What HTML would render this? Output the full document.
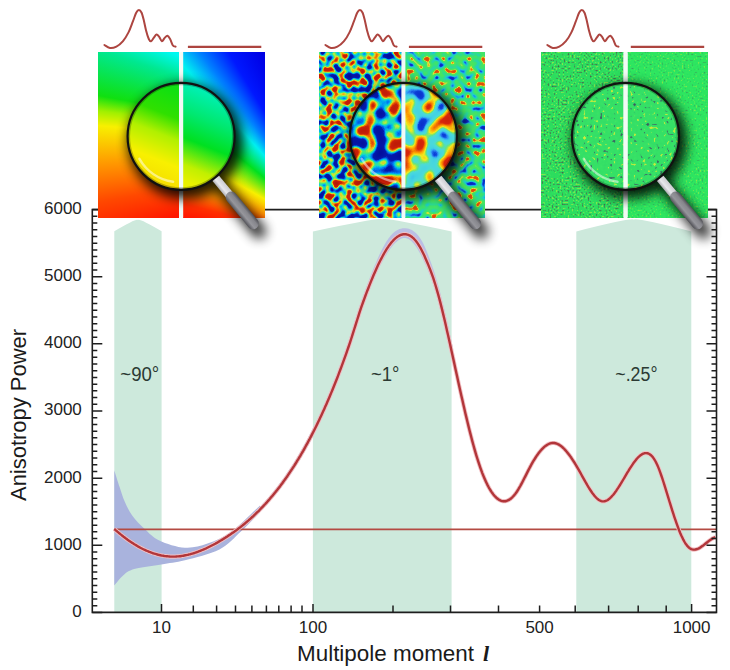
<!DOCTYPE html><html><head><meta charset="utf-8"><style>html,body{margin:0;padding:0;background:#fff;width:730px;height:670px;overflow:hidden}svg{display:block}</style></head><body><svg width="730" height="670" viewBox="0 0 730 670" font-family='"Liberation Sans", sans-serif'><defs><clipPath id="cc0"><circle cx="181.1" cy="136.3" r="53.5"/></clipPath>
<linearGradient id="p1r" gradientUnits="userSpaceOnUse" x1="190.0" y1="215.0" x2="310.0" y2="109.4"><stop offset="0" stop-color="#ff1000"/><stop offset="0.2" stop-color="#ff2800"/><stop offset="0.37" stop-color="#ff9000"/><stop offset="0.44" stop-color="#f0f000"/><stop offset="0.5" stop-color="#00e020"/><stop offset="0.61" stop-color="#00f0f0"/><stop offset="0.78" stop-color="#0080ff"/><stop offset="1" stop-color="#0000e0"/></linearGradient>
<linearGradient id="p1ml" gradientUnits="userSpaceOnUse" x1="156.9" y1="196.9" x2="201.3" y2="85.3"><stop offset="0" stop-color="#f5d000"/><stop offset="0.042" stop-color="#f5d800"/><stop offset="0.29" stop-color="#f8f000"/><stop offset="0.5" stop-color="#b0f000"/><stop offset="0.667" stop-color="#30e000"/><stop offset="0.875" stop-color="#10e010"/><stop offset="1" stop-color="#10e020"/></linearGradient>
<linearGradient id="p1mr" gradientUnits="userSpaceOnUse" x1="156.9" y1="196.9" x2="201.3" y2="85.3"><stop offset="0" stop-color="#f0f000"/><stop offset="0.208" stop-color="#e8f000"/><stop offset="0.333" stop-color="#c0f000"/><stop offset="0.542" stop-color="#00e020"/><stop offset="0.75" stop-color="#00e870"/><stop offset="0.958" stop-color="#00f0b0"/><stop offset="1" stop-color="#00f0c8"/></linearGradient>
<linearGradient id="ferr0" gradientUnits="userSpaceOnUse" x1="215.4" y1="185.8" x2="223.1" y2="179.4"><stop offset="0" stop-color="#a0a0a6"/><stop offset="0.4" stop-color="#e8e8ec"/><stop offset="1" stop-color="#c8c8cc"/></linearGradient>
<linearGradient id="grip0" gradientUnits="userSpaceOnUse" x1="233.7" y1="209.6" x2="243.0" y2="201.9"><stop offset="0" stop-color="#505056"/><stop offset="0.35" stop-color="#96969c"/><stop offset="0.7" stop-color="#86868c"/><stop offset="1" stop-color="#4a4a50"/></linearGradient>
<clipPath id="cc1"><circle cx="403.4" cy="136.3" r="53.5"/></clipPath>
<filter id="n2l" x="319.2" y="52.2" width="82.19999999999999" height="165.39999999999998" filterUnits="userSpaceOnUse" color-interpolation-filters="sRGB">
<feTurbulence type="fractalNoise" baseFrequency="0.15" numOctaves="1" seed="7"/>
<feColorMatrix type="matrix" values="1 0 0 0 0 1 0 0 0 0 1 0 0 0 0 0 0 0 0 1"/>
<feComponentTransfer><feFuncR type="table" tableValues="0.000 0.001 0.003 0.004 0.005 0.007 0.008 0.009 0.011 0.012 0.014 0.015 0.016 0.018 0.019 0.018 0.008 0.000 0.000 0.090 0.240 0.486 0.796 0.931 0.950 0.875 0.800 0.786 0.771 0.757 0.743 0.729 0.714 0.700 0.686 0.671 0.657 0.643 0.629 0.614 0.600"/><feFuncG type="table" tableValues="0.000 0.007 0.014 0.020 0.027 0.034 0.041 0.047 0.054 0.061 0.068 0.074 0.081 0.088 0.095 0.135 0.310 0.496 0.728 0.850 0.900 0.920 0.920 0.744 0.450 0.290 0.130 0.124 0.119 0.113 0.107 0.101 0.096 0.090 0.084 0.079 0.073 0.067 0.061 0.056 0.050"/><feFuncB type="table" tableValues="0.500 0.512 0.524 0.536 0.549 0.561 0.573 0.585 0.597 0.609 0.622 0.634 0.646 0.658 0.670 0.707 0.842 0.946 0.927 0.779 0.544 0.360 0.210 0.094 0.000 0.020 0.040 0.037 0.034 0.031 0.029 0.026 0.023 0.020 0.017 0.014 0.011 0.009 0.006 0.003 0.000"/></feComponentTransfer>
</filter>
<filter id="n2r" x="405.4" y="52.2" width="79.40000000000003" height="165.39999999999998" filterUnits="userSpaceOnUse" color-interpolation-filters="sRGB">
<feTurbulence type="fractalNoise" baseFrequency="0.16" numOctaves="1" seed="11"/>
<feColorMatrix type="matrix" values="1 0 0 0 0 1 0 0 0 0 1 0 0 0 0 0 0 0 0 1"/>
<feComponentTransfer><feFuncR type="table" tableValues="0.000 0.004 0.009 0.013 0.018 0.022 0.027 0.031 0.036 0.040 0.045 0.049 0.070 0.095 0.110 0.124 0.144 0.164 0.184 0.204 0.223 0.242 0.262 0.281 0.300 0.600 0.900 0.900 0.894 0.877 0.861 0.845 0.829 0.813 0.797 0.781 0.765 0.748 0.732 0.716 0.700"/><feFuncG type="table" tableValues="0.000 0.018 0.036 0.054 0.071 0.089 0.107 0.125 0.143 0.161 0.179 0.196 0.360 0.560 0.700 0.804 0.824 0.844 0.864 0.881 0.885 0.888 0.892 0.896 0.900 0.900 0.900 0.556 0.342 0.322 0.302 0.281 0.261 0.241 0.221 0.201 0.181 0.160 0.140 0.120 0.100"/><feFuncB type="table" tableValues="0.500 0.527 0.554 0.580 0.607 0.634 0.661 0.688 0.714 0.741 0.768 0.795 0.860 0.935 0.885 0.804 0.724 0.644 0.564 0.494 0.465 0.437 0.408 0.379 0.350 0.275 0.200 0.106 0.048 0.044 0.040 0.036 0.032 0.028 0.024 0.020 0.016 0.012 0.008 0.004 0.000"/></feComponentTransfer>
</filter>
<filter id="n2ml" x="349.9" y="82.80000000000001" width="53.5" height="107.0" filterUnits="userSpaceOnUse" color-interpolation-filters="sRGB">
<feTurbulence type="fractalNoise" baseFrequency="0.08" numOctaves="1" seed="31"/>
<feColorMatrix type="matrix" values="1 0 0 0 0 1 0 0 0 0 1 0 0 0 0 0 0 0 0 1"/>
<feComponentTransfer><feFuncR type="table" tableValues="0.000 0.001 0.003 0.004 0.005 0.006 0.007 0.009 0.010 0.011 0.013 0.014 0.015 0.016 0.017 0.019 0.020 0.010 0.000 0.000 0.086 0.300 0.743 0.931 0.950 0.875 0.800 0.786 0.771 0.757 0.743 0.729 0.714 0.700 0.686 0.671 0.657 0.643 0.629 0.614 0.600"/><feFuncG type="table" tableValues="0.000 0.006 0.013 0.019 0.025 0.031 0.037 0.044 0.050 0.056 0.062 0.069 0.075 0.081 0.087 0.094 0.100 0.275 0.450 0.681 0.849 0.920 0.920 0.744 0.450 0.290 0.130 0.124 0.119 0.113 0.107 0.101 0.096 0.090 0.084 0.079 0.073 0.067 0.061 0.056 0.050"/><feFuncB type="table" tableValues="0.500 0.511 0.522 0.534 0.545 0.556 0.568 0.579 0.590 0.601 0.613 0.624 0.635 0.646 0.657 0.669 0.680 0.815 0.950 0.931 0.786 0.450 0.236 0.094 0.000 0.020 0.040 0.037 0.034 0.031 0.029 0.026 0.023 0.020 0.017 0.014 0.011 0.009 0.006 0.003 0.000"/></feComponentTransfer>
</filter>
<filter id="n2mr" x="403.4" y="82.80000000000001" width="53.5" height="107.0" filterUnits="userSpaceOnUse" color-interpolation-filters="sRGB">
<feTurbulence type="fractalNoise" baseFrequency="0.07" numOctaves="1" seed="23"/>
<feColorMatrix type="matrix" values="1 0 0 0 0 1 0 0 0 0 1 0 0 0 0 0 0 0 0 1"/>
<feComponentTransfer><feFuncR type="table" tableValues="0.000 0.004 0.008 0.013 0.017 0.021 0.025 0.029 0.033 0.038 0.042 0.046 0.050 0.144 0.212 0.244 0.261 0.275 0.289 0.312 0.375 0.606 0.950 0.968 0.986 0.991 0.944 0.897 0.850 0.837 0.825 0.812 0.800 0.787 0.775 0.762 0.750 0.737 0.725 0.712 0.700"/><feFuncG type="table" tableValues="0.000 0.021 0.042 0.062 0.083 0.104 0.125 0.146 0.167 0.188 0.208 0.229 0.250 0.469 0.655 0.792 0.829 0.840 0.851 0.865 0.890 0.907 0.920 0.806 0.691 0.572 0.431 0.291 0.150 0.146 0.142 0.137 0.133 0.129 0.125 0.121 0.117 0.112 0.108 0.104 0.100"/><feFuncB type="table" tableValues="0.600 0.621 0.642 0.662 0.683 0.704 0.725 0.746 0.767 0.787 0.808 0.829 0.850 0.931 0.960 0.910 0.889 0.875 0.861 0.800 0.550 0.326 0.120 0.077 0.034 0.003 0.019 0.034 0.050 0.046 0.042 0.037 0.033 0.029 0.025 0.021 0.017 0.012 0.008 0.004 0.000"/></feComponentTransfer>
</filter>
<linearGradient id="ferr1" gradientUnits="userSpaceOnUse" x1="437.7" y1="185.8" x2="445.4" y2="179.4"><stop offset="0" stop-color="#a0a0a6"/><stop offset="0.4" stop-color="#e8e8ec"/><stop offset="1" stop-color="#c8c8cc"/></linearGradient>
<linearGradient id="grip1" gradientUnits="userSpaceOnUse" x1="456.0" y1="209.6" x2="465.3" y2="201.9"><stop offset="0" stop-color="#505056"/><stop offset="0.35" stop-color="#96969c"/><stop offset="0.7" stop-color="#86868c"/><stop offset="1" stop-color="#4a4a50"/></linearGradient>
<clipPath id="cc2"><circle cx="625.55" cy="136.3" r="53.5"/></clipPath>
<filter id="n3l" x="541.1" y="52.2" width="82.19999999999993" height="165.39999999999998" filterUnits="userSpaceOnUse" color-interpolation-filters="sRGB">
<feTurbulence type="fractalNoise" baseFrequency="0.5" numOctaves="1" seed="5"/>
<feColorMatrix type="matrix" values="1 0 0 0 0 1 0 0 0 0 1 0 0 0 0 0 0 0 0 1"/>
<feComponentTransfer><feFuncR type="table" tableValues="0.200 0.207 0.214 0.221 0.229 0.236 0.243 0.250 0.257 0.264 0.271 0.279 0.262 0.239 0.216 0.193 0.170 0.171 0.172 0.173 0.175 0.176 0.177 0.178 0.179 0.196 0.276 0.356 0.436 0.504 0.521 0.539 0.557 0.575 0.593 0.611 0.629 0.646 0.664 0.682 0.700"/><feFuncG type="table" tableValues="0.300 0.322 0.345 0.367 0.389 0.412 0.434 0.456 0.479 0.501 0.523 0.546 0.602 0.666 0.731 0.795 0.860 0.862 0.865 0.867 0.869 0.871 0.874 0.876 0.878 0.881 0.886 0.891 0.896 0.900 0.902 0.904 0.906 0.907 0.909 0.911 0.913 0.915 0.916 0.918 0.920"/><feFuncB type="table" tableValues="0.250 0.256 0.263 0.269 0.275 0.281 0.287 0.294 0.300 0.306 0.312 0.319 0.328 0.339 0.349 0.360 0.370 0.370 0.370 0.370 0.370 0.370 0.370 0.370 0.370 0.366 0.349 0.331 0.314 0.299 0.295 0.290 0.286 0.281 0.277 0.272 0.268 0.263 0.259 0.254 0.250"/></feComponentTransfer>
</filter>
<filter id="n3r" x="627.8" y="52.2" width="79.5" height="165.39999999999998" filterUnits="userSpaceOnUse" color-interpolation-filters="sRGB">
<feTurbulence type="fractalNoise" baseFrequency="0.5" numOctaves="1" seed="9"/>
<feColorMatrix type="matrix" values="1 0 0 0 0 1 0 0 0 0 1 0 0 0 0 0 0 0 0 1"/>
<feComponentTransfer><feFuncR type="table" tableValues="0.250 0.247 0.244 0.241 0.238 0.235 0.232 0.229 0.226 0.223 0.220 0.209 0.197 0.186 0.175 0.171 0.173 0.175 0.176 0.178 0.180 0.182 0.184 0.185 0.187 0.189 0.216 0.281 0.346 0.411 0.460 0.484 0.508 0.532 0.556 0.580 0.604 0.628 0.652 0.676 0.700"/><feFuncG type="table" tableValues="0.450 0.477 0.504 0.531 0.558 0.585 0.612 0.639 0.666 0.693 0.720 0.759 0.797 0.836 0.875 0.891 0.893 0.895 0.896 0.898 0.900 0.902 0.904 0.905 0.907 0.909 0.910 0.910 0.910 0.910 0.910 0.911 0.912 0.913 0.914 0.915 0.916 0.917 0.918 0.919 0.920"/><feFuncB type="table" tableValues="0.300 0.306 0.312 0.318 0.324 0.330 0.336 0.342 0.348 0.354 0.360 0.365 0.369 0.374 0.378 0.380 0.380 0.380 0.380 0.380 0.380 0.380 0.380 0.380 0.380 0.380 0.372 0.352 0.332 0.312 0.298 0.293 0.288 0.284 0.279 0.274 0.269 0.264 0.260 0.255 0.250"/></feComponentTransfer>
</filter>
<filter id="n3ml" x="572.05" y="82.80000000000001" width="53.5" height="107.0" filterUnits="userSpaceOnUse" color-interpolation-filters="sRGB">
<feTurbulence type="fractalNoise" baseFrequency="0.3" numOctaves="1" seed="13"/>
<feColorMatrix type="matrix" values="1 0 0 0 0 1 0 0 0 0 1 0 0 0 0 0 0 0 0 1"/>
<feComponentTransfer><feFuncR type="table" tableValues="0.150 0.159 0.168 0.177 0.186 0.195 0.204 0.212 0.221 0.230 0.239 0.248 0.233 0.213 0.201 0.202 0.204 0.205 0.207 0.209 0.210 0.212 0.214 0.215 0.217 0.218 0.220 0.420 0.620 0.710 0.728 0.745 0.762 0.779 0.797 0.814 0.831 0.848 0.866 0.883 0.900"/><feFuncG type="table" tableValues="0.250 0.272 0.295 0.317 0.339 0.362 0.384 0.406 0.429 0.451 0.473 0.496 0.623 0.777 0.871 0.872 0.874 0.875 0.877 0.879 0.880 0.882 0.884 0.885 0.887 0.888 0.890 0.903 0.915 0.922 0.924 0.927 0.929 0.932 0.934 0.937 0.940 0.942 0.945 0.947 0.950"/><feFuncB type="table" tableValues="0.300 0.309 0.318 0.327 0.336 0.345 0.354 0.362 0.371 0.380 0.389 0.398 0.400 0.400 0.400 0.400 0.400 0.400 0.400 0.400 0.400 0.400 0.400 0.400 0.400 0.400 0.400 0.337 0.275 0.247 0.243 0.239 0.234 0.230 0.226 0.222 0.217 0.213 0.209 0.204 0.200"/></feComponentTransfer>
</filter>
<filter id="n3mr" x="625.55" y="82.80000000000001" width="53.5" height="107.0" filterUnits="userSpaceOnUse" color-interpolation-filters="sRGB">
<feTurbulence type="fractalNoise" baseFrequency="0.3" numOctaves="1" seed="21"/>
<feColorMatrix type="matrix" values="1 0 0 0 0 1 0 0 0 0 1 0 0 0 0 0 0 0 0 1"/>
<feComponentTransfer><feFuncR type="table" tableValues="0.150 0.159 0.168 0.177 0.186 0.195 0.204 0.212 0.221 0.230 0.239 0.248 0.233 0.213 0.201 0.202 0.204 0.205 0.207 0.209 0.210 0.212 0.214 0.215 0.217 0.218 0.220 0.420 0.620 0.710 0.728 0.745 0.762 0.779 0.797 0.814 0.831 0.848 0.866 0.883 0.900"/><feFuncG type="table" tableValues="0.250 0.272 0.295 0.317 0.339 0.362 0.384 0.406 0.429 0.451 0.473 0.496 0.623 0.777 0.871 0.872 0.874 0.875 0.877 0.879 0.880 0.882 0.884 0.885 0.887 0.888 0.890 0.903 0.915 0.922 0.924 0.927 0.929 0.932 0.934 0.937 0.940 0.942 0.945 0.947 0.950"/><feFuncB type="table" tableValues="0.300 0.309 0.318 0.327 0.336 0.345 0.354 0.362 0.371 0.380 0.389 0.398 0.400 0.400 0.400 0.400 0.400 0.400 0.400 0.400 0.400 0.400 0.400 0.400 0.400 0.400 0.400 0.337 0.275 0.247 0.243 0.239 0.234 0.230 0.226 0.222 0.217 0.213 0.209 0.204 0.200"/></feComponentTransfer>
</filter>
<linearGradient id="ferr2" gradientUnits="userSpaceOnUse" x1="659.9" y1="185.8" x2="667.6" y2="179.4"><stop offset="0" stop-color="#a0a0a6"/><stop offset="0.4" stop-color="#e8e8ec"/><stop offset="1" stop-color="#c8c8cc"/></linearGradient>
<linearGradient id="grip2" gradientUnits="userSpaceOnUse" x1="678.2" y1="209.6" x2="687.4" y2="201.9"><stop offset="0" stop-color="#505056"/><stop offset="0.35" stop-color="#96969c"/><stop offset="0.7" stop-color="#86868c"/><stop offset="1" stop-color="#4a4a50"/></linearGradient>
<filter id="blur6" x="-50%" y="-50%" width="200%" height="200%"><feGaussianBlur stdDeviation="6"/></filter></defs>
<path d="M114.3,612.4 L114.3,231.3 Q137.95,217.3 137.95,220.3 Q137.95,217.3 161.6,231.3 L161.6,612.4 Z" fill="#cde9dc"/>
<path d="M312.9,612.4 L312.9,231.5 Q382.25,216.5 382.25,219.5 Q382.25,216.5 451.6,231.5 L451.6,612.4 Z" fill="#cde9dc"/>
<path d="M576.3,612.4 L576.3,231.4 Q633.8,216.8 633.8,219.8 Q633.8,216.8 691.3,231.4 L691.3,612.4 Z" fill="#cde9dc"/>
<path d="M114.3,470.5 C115.2,473.2 117.8,481.8 119.6,487.0 C121.3,492.2 122.7,497.1 124.8,501.8 C126.9,506.5 128.9,510.9 132.2,515.4 C135.5,519.9 140.2,524.8 144.7,529.0 C149.2,533.2 152.6,537.3 159.3,540.4 C166.0,543.5 177.0,547.2 185.0,547.7 C193.0,548.2 199.8,546.3 207.5,543.6 C215.2,540.9 222.6,538.0 231.3,531.6 C240.1,525.2 255.2,509.8 260.0,505.4 L260,512.5 C256.8,515.7 247.7,525.4 240.9,531.6 C234.1,537.8 228.7,544.8 219.4,549.6 C210.1,554.4 194.7,557.8 185.0,560.3 C175.3,562.8 169.5,563.0 161.4,564.4 C153.3,565.8 142.4,567.0 136.3,568.6 C130.2,570.2 128.5,571.1 124.8,573.9 C121.1,576.7 116.0,583.5 114.3,585.4 Z" fill="#a9b3dd"/>
<path d="M249.0,517.3 L250.0,516.4 L250.9,515.5 L251.9,514.6 L252.9,513.7 L253.9,512.7 L254.9,511.8 L255.9,510.8 L256.9,509.8 L257.9,508.8 L258.9,507.8 L259.9,506.8 L260.9,505.8 L261.8,504.7 L262.8,503.7 L263.8,502.6 L264.8,501.5 L265.8,500.4 L266.8,499.3 L267.8,498.2 L268.8,497.0 L269.8,495.8 L270.8,494.7 L271.8,493.5 L272.7,492.3 L273.7,491.0 L274.7,489.8 L275.7,488.5 L276.7,487.3 L277.7,486.0 L278.7,484.7 L279.7,483.3 L280.7,482.0 L281.7,480.6 L282.7,479.3 L283.7,477.9 L284.7,476.4 L285.7,475.0 L286.6,473.6 L287.6,472.1 L288.6,470.6 L289.6,469.1 L290.6,467.6 L291.6,466.1 L292.6,464.5 L293.6,462.9 L294.6,461.3 L295.6,459.7 L296.6,458.1 L297.6,456.4 L298.6,454.7 L299.6,453.0 L300.6,451.3 L301.6,449.6 L302.6,447.8 L303.6,446.0 L304.5,444.2 L305.5,442.4 L306.5,440.6 L307.5,438.7 L308.5,436.8 L309.5,434.9 L310.5,433.0 L311.5,431.1 L312.5,429.1 L313.5,427.1 L314.5,425.1 L315.5,423.0 L316.5,421.0 L317.5,418.9 L318.5,416.7 L319.5,414.6 L320.5,412.4 L321.5,410.3 L322.5,408.0 L323.5,405.8 L324.5,403.6 L325.5,401.3 L326.5,398.9 L327.5,396.6 L328.5,394.2 L329.5,391.9 L330.4,389.4 L331.4,387.0 L332.4,384.5 L333.4,382.0 L334.4,379.5 L335.4,376.9 L336.4,374.3 L337.4,371.7 L338.4,369.1 L339.4,366.4 L340.4,363.7 L341.4,361.0 L342.4,358.2 L343.4,355.4 L344.4,352.6 L345.4,349.8 L346.4,346.9 L347.4,343.9 L348.4,340.9 L349.4,337.9 L350.4,334.8 L351.4,331.6 L352.4,328.4 L353.4,325.2 L354.4,322.0 L355.4,318.8 L356.4,315.7 L357.3,312.6 L358.3,309.5 L359.3,306.6 L360.3,303.7 L361.3,300.8 L362.3,298.0 L363.3,295.3 L364.3,292.6 L365.2,290.0 L366.2,287.3 L367.2,284.8 L368.1,282.2 L369.1,279.7 L370.0,277.3 L371.0,274.8 L371.9,272.4 L372.9,270.1 L373.8,267.8 L374.7,265.6 L375.7,263.4 L376.6,261.2 L377.5,259.1 L378.4,257.1 L379.3,255.1 L380.2,253.1 L381.1,251.2 L382.0,249.4 L383.0,247.6 L383.9,245.9 L384.8,244.3 L385.7,242.7 L386.7,241.1 L387.7,239.7 L388.6,238.3 L389.7,236.9 L390.7,235.6 L391.8,234.5 L392.9,233.3 L394.1,232.3 L395.3,231.3 L396.6,230.5 L398.0,229.8 L399.5,229.1 L401.0,228.7 L402.5,228.3 L404.1,228.2 L405.7,228.2 L407.3,228.4 L408.9,228.8 L410.4,229.4 L411.9,230.1 L413.3,230.9 L414.6,231.9 L415.9,233.0 L417.1,234.2 L418.2,235.5 L419.3,236.9 L420.3,238.4 L421.3,240.1 L422.3,241.8 L423.3,243.6 L424.2,245.5 L425.1,247.5 L426.0,249.6 L426.9,251.8 L427.8,254.0 L428.7,256.4 L429.6,258.7 L430.5,261.2 L431.4,263.7 L432.3,266.2 L433.2,268.8 L434.1,271.6 L435.0,274.4 L435.9,277.4 L436.8,280.5 L437.8,283.7 L438.7,287.1 L439.7,290.6 L440.6,294.2 L441.6,298.0 L442.5,301.9 L443.5,305.8 L444.5,309.9 L445.4,314.1 L446.4,318.3 L447.4,322.6 L448.4,327.0 L449.3,331.4 L450.3,335.9 L451.3,340.4 L452.3,344.9 L453.3,349.4 L449.5,350.3 L448.5,345.7 L447.5,341.2 L446.5,336.7 L445.5,332.3 L444.5,327.9 L443.5,323.5 L442.5,319.2 L441.5,315.0 L440.4,310.9 L439.4,306.9 L438.4,302.9 L437.4,299.1 L436.4,295.4 L435.3,291.8 L434.3,288.4 L433.3,285.1 L432.3,281.9 L431.2,278.9 L430.2,276.1 L429.2,273.4 L428.1,270.8 L427.1,268.3 L426.0,265.8 L425.0,263.5 L423.9,261.2 L422.9,258.9 L421.8,256.8 L420.8,254.7 L419.7,252.8 L418.7,250.9 L417.7,249.2 L416.6,247.6 L415.6,246.1 L414.6,244.8 L413.7,243.6 L412.7,242.5 L411.8,241.6 L410.9,240.8 L410.0,240.1 L409.2,239.5 L408.4,239.0 L407.6,238.7 L406.9,238.4 L406.3,238.2 L405.6,238.1 L405.0,238.0 L404.4,238.0 L403.8,238.0 L403.2,238.1 L402.5,238.3 L401.8,238.5 L401.0,238.8 L400.2,239.2 L399.4,239.7 L398.5,240.3 L397.6,241.0 L396.7,241.8 L395.7,242.6 L394.7,243.6 L393.7,244.6 L392.7,245.8 L391.7,247.0 L390.7,248.3 L389.7,249.7 L388.6,251.2 L387.6,252.7 L386.6,254.4 L385.5,256.1 L384.5,257.8 L383.5,259.7 L382.4,261.6 L381.4,263.5 L380.3,265.6 L379.3,267.7 L378.3,269.8 L377.2,272.0 L376.2,274.3 L375.2,276.6 L374.2,279.0 L373.1,281.4 L372.1,283.8 L371.1,286.3 L370.1,288.9 L369.1,291.4 L368.1,294.0 L367.1,296.7 L366.1,299.4 L365.0,302.1 L364.0,305.0 L363.0,307.8 L362.0,310.8 L361.0,313.8 L360.0,316.9 L359.0,320.0 L358.0,323.2 L357.0,326.4 L356.0,329.6 L355.0,332.8 L354.0,335.9 L353.0,339.1 L352.0,342.1 L351.0,345.1 L350.0,348.1 L349.0,351.0 L348.0,353.9 L347.0,356.7 L346.0,359.5 L345.0,362.3 L344.0,365.0 L343.0,367.7 L342.0,370.4 L341.0,373.1 L340.0,375.7 L339.0,378.3 L338.0,380.9 L337.0,383.4 L336.0,385.9 L335.0,388.4 L334.0,390.9 L333.0,393.3 L332.0,395.7 L331.0,398.1 L330.0,400.4 L329.0,402.8 L327.9,405.1 L326.9,407.4 L325.9,409.6 L324.9,411.8 L323.9,414.0 L322.9,416.2 L321.9,418.4 L320.9,420.5 L319.9,422.6 L318.9,424.7 L317.9,426.7 L316.9,428.8 L315.9,430.8 L314.9,432.8 L313.9,434.7 L312.9,436.7 L311.9,438.6 L310.9,440.5 L309.9,442.4 L308.9,444.2 L307.9,446.1 L306.9,447.9 L305.9,449.7 L304.9,451.5 L303.9,453.2 L302.9,455.0 L301.9,456.7 L300.8,458.4 L299.8,460.0 L298.8,461.7 L297.8,463.3 L296.8,464.9 L295.8,466.5 L294.8,468.1 L293.8,469.7 L292.8,471.2 L291.8,472.7 L290.8,474.2 L289.8,475.7 L288.8,477.2 L287.8,478.6 L286.8,480.1 L285.8,481.5 L284.8,482.9 L283.8,484.2 L282.7,485.6 L281.7,486.9 L280.7,488.3 L279.7,489.6 L278.7,490.9 L277.7,492.2 L276.7,493.4 L275.7,494.7 L274.7,495.9 L273.7,497.1 L272.7,498.3 L271.7,499.5 L270.7,500.6 L269.7,501.8 L268.6,502.9 L267.6,504.1 L266.6,505.2 L265.6,506.3 L264.6,507.3 L263.6,508.4 L262.6,509.5 L261.6,510.5 L260.6,511.5 L259.6,512.5 L258.6,513.5 L257.6,514.5 L256.5,515.5 L255.5,516.4 L254.5,517.4 L253.5,518.3 L252.5,519.2 L251.5,520.1 Z" fill="#bbbfe4"/>
<line x1="114.3" y1="529.4" x2="716.5" y2="529.4" stroke="#b44a42" stroke-width="1.9"/>
<path d="M114.3,529.0 L115.3,529.9 L116.3,530.7 L117.3,531.6 L118.3,532.4 L119.3,533.3 L120.3,534.1 L121.3,534.9 L122.3,535.7 L123.3,536.5 L124.3,537.2 L125.3,538.0 L126.3,538.7 L127.3,539.5 L128.3,540.2 L129.3,540.9 L130.3,541.6 L131.3,542.2 L132.3,542.9 L133.3,543.5 L134.3,544.2 L135.3,544.8 L136.3,545.4 L137.3,546.0 L138.3,546.6 L139.3,547.1 L140.3,547.7 L141.3,548.2 L142.3,548.7 L143.3,549.2 L144.3,549.7 L145.3,550.1 L146.3,550.6 L147.3,551.0 L148.3,551.4 L149.3,551.9 L150.3,552.2 L151.3,552.6 L152.3,553.0 L153.3,553.3 L154.3,553.6 L155.3,553.9 L156.3,554.2 L157.3,554.5 L158.3,554.8 L159.3,555.0 L160.3,555.2 L161.3,555.5 L162.3,555.6 L163.3,555.8 L164.3,556.0 L165.3,556.1 L166.3,556.2 L167.3,556.3 L168.3,556.4 L169.3,556.5 L170.3,556.6 L171.3,556.6 L172.3,556.6 L173.3,556.6 L174.3,556.6 L175.3,556.6 L176.3,556.5 L177.3,556.4 L178.3,556.4 L179.3,556.3 L180.3,556.2 L181.3,556.0 L182.3,555.9 L183.3,555.7 L184.3,555.5 L185.3,555.3 L186.3,555.1 L187.3,554.9 L188.3,554.7 L189.3,554.4 L190.3,554.2 L191.3,553.9 L192.3,553.6 L193.3,553.3 L194.3,553.0 L195.3,552.7 L196.3,552.3 L197.3,552.0 L198.3,551.6 L199.3,551.2 L200.3,550.8 L201.3,550.4 L202.3,550.0 L203.3,549.6 L204.3,549.2 L205.3,548.7 L206.3,548.3 L207.3,547.8 L208.3,547.3 L209.3,546.8 L210.3,546.3 L211.3,545.8 L212.3,545.3 L213.3,544.8 L214.3,544.2 L215.3,543.7 L216.3,543.1 L217.3,542.6 L218.3,542.0 L219.3,541.4 L220.3,540.8 L221.3,540.2 L222.3,539.6 L223.3,539.0 L224.3,538.4 L225.3,537.8 L226.3,537.1 L227.3,536.5 L228.3,535.8 L229.3,535.1 L230.3,534.5 L231.3,533.8 L232.3,533.1 L233.3,532.4 L234.3,531.7 L235.3,530.9 L236.3,530.2 L237.3,529.5 L238.3,528.7 L239.3,527.9 L240.3,527.2 L241.3,526.4 L242.3,525.6 L243.3,524.8 L244.3,524.0 L245.3,523.1 L246.3,522.3 L247.3,521.4 L248.3,520.6 L249.3,519.7 L250.3,518.8 L251.3,517.9 L252.3,517.0 L253.3,516.1 L254.3,515.1 L255.3,514.2 L256.3,513.2 L257.3,512.2 L258.3,511.3 L259.3,510.3 L260.3,509.2 L261.3,508.2 L262.3,507.2 L263.3,506.1 L264.3,505.0 L265.3,504.0 L266.3,502.9 L267.3,501.7 L268.3,500.6 L269.3,499.5 L270.3,498.3 L271.3,497.1 L272.3,495.9 L273.3,494.7 L274.3,493.5 L275.3,492.3 L276.3,491.0 L277.3,489.8 L278.3,488.5 L279.3,487.2 L280.3,485.9 L281.3,484.5 L282.3,483.2 L283.3,481.8 L284.3,480.4 L285.3,479.0 L286.3,477.6 L287.3,476.2 L288.3,474.7 L289.3,473.2 L290.3,471.7 L291.3,470.2 L292.3,468.7 L293.3,467.1 L294.3,465.6 L295.3,464.0 L296.3,462.4 L297.3,460.7 L298.3,459.1 L299.3,457.4 L300.3,455.8 L301.3,454.0 L302.3,452.3 L303.3,450.6 L304.3,448.8 L305.3,447.0 L306.3,445.2 L307.3,443.4 L308.3,441.5 L309.3,439.7 L310.3,437.8 L311.3,435.9 L312.3,433.9 L313.3,432.0 L314.3,430.0 L315.3,428.0 L316.3,425.9 L317.3,423.9 L318.3,421.8 L319.3,419.7 L320.3,417.6 L321.3,415.5 L322.3,413.3 L323.3,411.1 L324.3,408.9 L325.3,406.6 L326.3,404.4 L327.3,402.1 L328.3,399.7 L329.3,397.4 L330.3,395.0 L331.3,392.6 L332.3,390.2 L333.3,387.7 L334.3,385.3 L335.3,382.8 L336.3,380.2 L337.3,377.7 L338.3,375.1 L339.3,372.4 L340.3,369.8 L341.3,367.1 L342.3,364.4 L343.3,361.7 L344.3,358.9 L345.3,356.1 L346.3,353.3 L347.3,350.4 L348.3,347.5 L349.3,344.6 L350.3,341.6 L351.3,338.5 L352.3,335.4 L353.3,332.2 L354.3,329.0 L355.3,325.8 L356.3,322.6 L357.3,319.5 L358.3,316.3 L359.3,313.2 L360.3,310.2 L361.3,307.2 L362.3,304.3 L363.3,301.5 L364.3,298.8 L365.3,296.0 L366.3,293.4 L367.3,290.7 L368.3,288.2 L369.3,285.6 L370.3,283.1 L371.3,280.6 L372.3,278.2 L373.3,275.8 L374.3,273.5 L375.3,271.2 L376.3,268.9 L377.3,266.7 L378.3,264.6 L379.3,262.5 L380.3,260.5 L381.3,258.6 L382.3,256.7 L383.3,254.8 L384.3,253.0 L385.3,251.3 L386.3,249.7 L387.3,248.1 L388.3,246.7 L389.3,245.2 L390.3,243.9 L391.3,242.6 L392.3,241.5 L393.3,240.4 L394.3,239.3 L395.3,238.4 L396.3,237.6 L397.3,236.8 L398.3,236.2 L399.3,235.6 L400.3,235.1 L401.3,234.7 L402.3,234.5 L403.3,234.3 L404.3,234.2 L405.3,234.2 L406.3,234.3 L407.3,234.6 L408.3,234.9 L409.3,235.3 L410.3,235.9 L411.3,236.5 L412.3,237.3 L413.3,238.2 L414.3,239.2 L415.3,240.3 L416.3,241.5 L417.3,242.9 L418.3,244.4 L419.3,246.0 L420.3,247.7 L421.3,249.5 L422.3,251.5 L423.3,253.5 L424.3,255.6 L425.3,257.9 L426.3,260.2 L427.3,262.5 L428.3,264.9 L429.3,267.4 L430.3,269.9 L431.3,272.6 L432.3,275.4 L433.3,278.2 L434.3,281.3 L435.3,284.5 L436.3,287.8 L437.3,291.3 L438.3,294.9 L439.3,298.6 L440.3,302.4 L441.3,306.4 L442.3,310.4 L443.3,314.6 L444.3,318.8 L445.3,323.1 L446.3,327.4 L447.3,331.9 L448.3,336.3 L449.3,340.8 L450.3,345.3 L451.3,349.9 L452.3,354.4 L453.3,359.0 L454.3,363.6 L455.3,368.2 L456.3,372.7 L457.3,377.3 L458.3,381.9 L459.3,386.4 L460.3,390.9 L461.3,395.4 L462.3,399.8 L463.3,404.2 L464.3,408.6 L465.3,412.9 L466.3,417.1 L467.3,421.3 L468.3,425.4 L469.3,429.5 L470.3,433.4 L471.3,437.3 L472.3,441.1 L473.3,444.8 L474.3,448.4 L475.3,451.9 L476.3,455.3 L477.3,458.5 L478.3,461.7 L479.3,464.7 L480.3,467.6 L481.3,470.4 L482.3,473.1 L483.3,475.6 L484.3,478.0 L485.3,480.3 L486.3,482.5 L487.3,484.6 L488.3,486.5 L489.3,488.3 L490.3,490.0 L491.3,491.6 L492.3,493.0 L493.3,494.4 L494.3,495.6 L495.3,496.7 L496.3,497.7 L497.3,498.5 L498.3,499.3 L499.3,499.9 L500.3,500.4 L501.3,500.8 L502.3,501.1 L503.3,501.2 L504.3,501.2 L505.3,501.2 L506.3,501.0 L507.3,500.6 L508.3,500.2 L509.3,499.6 L510.3,499.0 L511.3,498.2 L512.3,497.3 L513.3,496.2 L514.3,495.1 L515.3,493.9 L516.3,492.5 L517.3,491.0 L518.3,489.4 L519.3,487.7 L520.3,486.0 L521.3,484.1 L522.3,482.2 L523.3,480.3 L524.3,478.3 L525.3,476.4 L526.3,474.4 L527.3,472.4 L528.3,470.4 L529.3,468.5 L530.3,466.6 L531.3,464.7 L532.3,462.9 L533.3,461.2 L534.3,459.6 L535.3,458.0 L536.3,456.4 L537.3,455.0 L538.3,453.6 L539.3,452.3 L540.3,451.1 L541.3,449.9 L542.3,448.8 L543.3,447.8 L544.3,446.9 L545.3,446.1 L546.3,445.4 L547.3,444.7 L548.3,444.2 L549.3,443.7 L550.3,443.4 L551.3,443.1 L552.3,443.0 L553.3,443.0 L554.3,443.0 L555.3,443.2 L556.3,443.5 L557.3,443.9 L558.3,444.3 L559.3,444.9 L560.3,445.6 L561.3,446.3 L562.3,447.1 L563.3,448.0 L564.3,449.0 L565.3,450.1 L566.3,451.2 L567.3,452.4 L568.3,453.7 L569.3,455.0 L570.3,456.4 L571.3,457.8 L572.3,459.3 L573.3,460.8 L574.3,462.4 L575.3,464.0 L576.3,465.7 L577.3,467.4 L578.3,469.1 L579.3,470.9 L580.3,472.7 L581.3,474.5 L582.3,476.3 L583.3,478.1 L584.3,479.9 L585.3,481.7 L586.3,483.4 L587.3,485.2 L588.3,486.8 L589.3,488.5 L590.3,490.0 L591.3,491.5 L592.3,493.0 L593.3,494.3 L594.3,495.6 L595.3,496.7 L596.3,497.8 L597.3,498.7 L598.3,499.5 L599.3,500.2 L600.3,500.7 L601.3,501.1 L602.3,501.4 L603.3,501.4 L604.3,501.3 L605.3,501.1 L606.3,500.7 L607.3,500.2 L608.3,499.6 L609.3,498.8 L610.3,497.9 L611.3,496.9 L612.3,495.8 L613.3,494.7 L614.3,493.4 L615.3,492.1 L616.3,490.7 L617.3,489.2 L618.3,487.7 L619.3,486.1 L620.3,484.5 L621.3,482.8 L622.3,481.2 L623.3,479.5 L624.3,477.8 L625.3,476.1 L626.3,474.4 L627.3,472.7 L628.3,471.1 L629.3,469.4 L630.3,467.8 L631.3,466.3 L632.3,464.8 L633.3,463.3 L634.3,462.0 L635.3,460.7 L636.3,459.4 L637.3,458.3 L638.3,457.2 L639.3,456.3 L640.3,455.4 L641.3,454.7 L642.3,454.1 L643.3,453.6 L644.3,453.3 L645.3,453.1 L646.3,453.1 L647.3,453.2 L648.3,453.5 L649.3,454.0 L650.3,454.7 L651.3,455.5 L652.3,456.6 L653.3,457.8 L654.3,459.3 L655.3,461.0 L656.3,462.9 L657.3,465.0 L658.3,467.4 L659.3,469.9 L660.3,472.6 L661.3,475.5 L662.3,478.4 L663.3,481.5 L664.3,484.7 L665.3,487.9 L666.3,491.2 L667.3,494.4 L668.3,497.7 L669.3,501.0 L670.3,504.2 L671.3,507.4 L672.3,510.6 L673.3,513.7 L674.3,516.8 L675.3,519.7 L676.3,522.6 L677.3,525.4 L678.3,528.1 L679.3,530.7 L680.3,533.2 L681.3,535.5 L682.3,537.6 L683.3,539.7 L684.3,541.5 L685.3,543.2 L686.3,544.6 L687.3,545.9 L688.3,547.0 L689.3,547.9 L690.3,548.6 L691.3,549.1 L692.3,549.4 L693.3,549.6 L694.3,549.6 L695.3,549.5 L696.3,549.3 L697.3,549.0 L698.3,548.6 L699.3,548.1 L700.3,547.5 L701.3,546.8 L702.3,546.1 L703.3,545.4 L704.3,544.6 L705.3,543.8 L706.3,543.0 L707.3,542.2 L708.3,541.4 L709.3,540.6 L710.3,539.9 L711.3,539.2 L712.3,538.6 L713.3,538.0 L714.3,537.6 L715.3,537.2" fill="none" stroke="#f2c0c4" stroke-width="4.2" stroke-linejoin="round"/>
<path d="M114.3,529.0 L115.3,529.9 L116.3,530.7 L117.3,531.6 L118.3,532.4 L119.3,533.3 L120.3,534.1 L121.3,534.9 L122.3,535.7 L123.3,536.5 L124.3,537.2 L125.3,538.0 L126.3,538.7 L127.3,539.5 L128.3,540.2 L129.3,540.9 L130.3,541.6 L131.3,542.2 L132.3,542.9 L133.3,543.5 L134.3,544.2 L135.3,544.8 L136.3,545.4 L137.3,546.0 L138.3,546.6 L139.3,547.1 L140.3,547.7 L141.3,548.2 L142.3,548.7 L143.3,549.2 L144.3,549.7 L145.3,550.1 L146.3,550.6 L147.3,551.0 L148.3,551.4 L149.3,551.9 L150.3,552.2 L151.3,552.6 L152.3,553.0 L153.3,553.3 L154.3,553.6 L155.3,553.9 L156.3,554.2 L157.3,554.5 L158.3,554.8 L159.3,555.0 L160.3,555.2 L161.3,555.5 L162.3,555.6 L163.3,555.8 L164.3,556.0 L165.3,556.1 L166.3,556.2 L167.3,556.3 L168.3,556.4 L169.3,556.5 L170.3,556.6 L171.3,556.6 L172.3,556.6 L173.3,556.6 L174.3,556.6 L175.3,556.6 L176.3,556.5 L177.3,556.4 L178.3,556.4 L179.3,556.3 L180.3,556.2 L181.3,556.0 L182.3,555.9 L183.3,555.7 L184.3,555.5 L185.3,555.3 L186.3,555.1 L187.3,554.9 L188.3,554.7 L189.3,554.4 L190.3,554.2 L191.3,553.9 L192.3,553.6 L193.3,553.3 L194.3,553.0 L195.3,552.7 L196.3,552.3 L197.3,552.0 L198.3,551.6 L199.3,551.2 L200.3,550.8 L201.3,550.4 L202.3,550.0 L203.3,549.6 L204.3,549.2 L205.3,548.7 L206.3,548.3 L207.3,547.8 L208.3,547.3 L209.3,546.8 L210.3,546.3 L211.3,545.8 L212.3,545.3 L213.3,544.8 L214.3,544.2 L215.3,543.7 L216.3,543.1 L217.3,542.6 L218.3,542.0 L219.3,541.4 L220.3,540.8 L221.3,540.2 L222.3,539.6 L223.3,539.0 L224.3,538.4 L225.3,537.8 L226.3,537.1 L227.3,536.5 L228.3,535.8 L229.3,535.1 L230.3,534.5 L231.3,533.8 L232.3,533.1 L233.3,532.4 L234.3,531.7 L235.3,530.9 L236.3,530.2 L237.3,529.5 L238.3,528.7 L239.3,527.9 L240.3,527.2 L241.3,526.4 L242.3,525.6 L243.3,524.8 L244.3,524.0 L245.3,523.1 L246.3,522.3 L247.3,521.4 L248.3,520.6 L249.3,519.7 L250.3,518.8 L251.3,517.9 L252.3,517.0 L253.3,516.1 L254.3,515.1 L255.3,514.2 L256.3,513.2 L257.3,512.2 L258.3,511.3 L259.3,510.3 L260.3,509.2 L261.3,508.2 L262.3,507.2 L263.3,506.1 L264.3,505.0 L265.3,504.0 L266.3,502.9 L267.3,501.7 L268.3,500.6 L269.3,499.5 L270.3,498.3 L271.3,497.1 L272.3,495.9 L273.3,494.7 L274.3,493.5 L275.3,492.3 L276.3,491.0 L277.3,489.8 L278.3,488.5 L279.3,487.2 L280.3,485.9 L281.3,484.5 L282.3,483.2 L283.3,481.8 L284.3,480.4 L285.3,479.0 L286.3,477.6 L287.3,476.2 L288.3,474.7 L289.3,473.2 L290.3,471.7 L291.3,470.2 L292.3,468.7 L293.3,467.1 L294.3,465.6 L295.3,464.0 L296.3,462.4 L297.3,460.7 L298.3,459.1 L299.3,457.4 L300.3,455.8 L301.3,454.0 L302.3,452.3 L303.3,450.6 L304.3,448.8 L305.3,447.0 L306.3,445.2 L307.3,443.4 L308.3,441.5 L309.3,439.7 L310.3,437.8 L311.3,435.9 L312.3,433.9 L313.3,432.0 L314.3,430.0 L315.3,428.0 L316.3,425.9 L317.3,423.9 L318.3,421.8 L319.3,419.7 L320.3,417.6 L321.3,415.5 L322.3,413.3 L323.3,411.1 L324.3,408.9 L325.3,406.6 L326.3,404.4 L327.3,402.1 L328.3,399.7 L329.3,397.4 L330.3,395.0 L331.3,392.6 L332.3,390.2 L333.3,387.7 L334.3,385.3 L335.3,382.8 L336.3,380.2 L337.3,377.7 L338.3,375.1 L339.3,372.4 L340.3,369.8 L341.3,367.1 L342.3,364.4 L343.3,361.7 L344.3,358.9 L345.3,356.1 L346.3,353.3 L347.3,350.4 L348.3,347.5 L349.3,344.6 L350.3,341.6 L351.3,338.5 L352.3,335.4 L353.3,332.2 L354.3,329.0 L355.3,325.8 L356.3,322.6 L357.3,319.5 L358.3,316.3 L359.3,313.2 L360.3,310.2 L361.3,307.2 L362.3,304.3 L363.3,301.5 L364.3,298.8 L365.3,296.0 L366.3,293.4 L367.3,290.7 L368.3,288.2 L369.3,285.6 L370.3,283.1 L371.3,280.6 L372.3,278.2 L373.3,275.8 L374.3,273.5 L375.3,271.2 L376.3,268.9 L377.3,266.7 L378.3,264.6 L379.3,262.5 L380.3,260.5 L381.3,258.6 L382.3,256.7 L383.3,254.8 L384.3,253.0 L385.3,251.3 L386.3,249.7 L387.3,248.1 L388.3,246.7 L389.3,245.2 L390.3,243.9 L391.3,242.6 L392.3,241.5 L393.3,240.4 L394.3,239.3 L395.3,238.4 L396.3,237.6 L397.3,236.8 L398.3,236.2 L399.3,235.6 L400.3,235.1 L401.3,234.7 L402.3,234.5 L403.3,234.3 L404.3,234.2 L405.3,234.2 L406.3,234.3 L407.3,234.6 L408.3,234.9 L409.3,235.3 L410.3,235.9 L411.3,236.5 L412.3,237.3 L413.3,238.2 L414.3,239.2 L415.3,240.3 L416.3,241.5 L417.3,242.9 L418.3,244.4 L419.3,246.0 L420.3,247.7 L421.3,249.5 L422.3,251.5 L423.3,253.5 L424.3,255.6 L425.3,257.9 L426.3,260.2 L427.3,262.5 L428.3,264.9 L429.3,267.4 L430.3,269.9 L431.3,272.6 L432.3,275.4 L433.3,278.2 L434.3,281.3 L435.3,284.5 L436.3,287.8 L437.3,291.3 L438.3,294.9 L439.3,298.6 L440.3,302.4 L441.3,306.4 L442.3,310.4 L443.3,314.6 L444.3,318.8 L445.3,323.1 L446.3,327.4 L447.3,331.9 L448.3,336.3 L449.3,340.8 L450.3,345.3 L451.3,349.9 L452.3,354.4 L453.3,359.0 L454.3,363.6 L455.3,368.2 L456.3,372.7 L457.3,377.3 L458.3,381.9 L459.3,386.4 L460.3,390.9 L461.3,395.4 L462.3,399.8 L463.3,404.2 L464.3,408.6 L465.3,412.9 L466.3,417.1 L467.3,421.3 L468.3,425.4 L469.3,429.5 L470.3,433.4 L471.3,437.3 L472.3,441.1 L473.3,444.8 L474.3,448.4 L475.3,451.9 L476.3,455.3 L477.3,458.5 L478.3,461.7 L479.3,464.7 L480.3,467.6 L481.3,470.4 L482.3,473.1 L483.3,475.6 L484.3,478.0 L485.3,480.3 L486.3,482.5 L487.3,484.6 L488.3,486.5 L489.3,488.3 L490.3,490.0 L491.3,491.6 L492.3,493.0 L493.3,494.4 L494.3,495.6 L495.3,496.7 L496.3,497.7 L497.3,498.5 L498.3,499.3 L499.3,499.9 L500.3,500.4 L501.3,500.8 L502.3,501.1 L503.3,501.2 L504.3,501.2 L505.3,501.2 L506.3,501.0 L507.3,500.6 L508.3,500.2 L509.3,499.6 L510.3,499.0 L511.3,498.2 L512.3,497.3 L513.3,496.2 L514.3,495.1 L515.3,493.9 L516.3,492.5 L517.3,491.0 L518.3,489.4 L519.3,487.7 L520.3,486.0 L521.3,484.1 L522.3,482.2 L523.3,480.3 L524.3,478.3 L525.3,476.4 L526.3,474.4 L527.3,472.4 L528.3,470.4 L529.3,468.5 L530.3,466.6 L531.3,464.7 L532.3,462.9 L533.3,461.2 L534.3,459.6 L535.3,458.0 L536.3,456.4 L537.3,455.0 L538.3,453.6 L539.3,452.3 L540.3,451.1 L541.3,449.9 L542.3,448.8 L543.3,447.8 L544.3,446.9 L545.3,446.1 L546.3,445.4 L547.3,444.7 L548.3,444.2 L549.3,443.7 L550.3,443.4 L551.3,443.1 L552.3,443.0 L553.3,443.0 L554.3,443.0 L555.3,443.2 L556.3,443.5 L557.3,443.9 L558.3,444.3 L559.3,444.9 L560.3,445.6 L561.3,446.3 L562.3,447.1 L563.3,448.0 L564.3,449.0 L565.3,450.1 L566.3,451.2 L567.3,452.4 L568.3,453.7 L569.3,455.0 L570.3,456.4 L571.3,457.8 L572.3,459.3 L573.3,460.8 L574.3,462.4 L575.3,464.0 L576.3,465.7 L577.3,467.4 L578.3,469.1 L579.3,470.9 L580.3,472.7 L581.3,474.5 L582.3,476.3 L583.3,478.1 L584.3,479.9 L585.3,481.7 L586.3,483.4 L587.3,485.2 L588.3,486.8 L589.3,488.5 L590.3,490.0 L591.3,491.5 L592.3,493.0 L593.3,494.3 L594.3,495.6 L595.3,496.7 L596.3,497.8 L597.3,498.7 L598.3,499.5 L599.3,500.2 L600.3,500.7 L601.3,501.1 L602.3,501.4 L603.3,501.4 L604.3,501.3 L605.3,501.1 L606.3,500.7 L607.3,500.2 L608.3,499.6 L609.3,498.8 L610.3,497.9 L611.3,496.9 L612.3,495.8 L613.3,494.7 L614.3,493.4 L615.3,492.1 L616.3,490.7 L617.3,489.2 L618.3,487.7 L619.3,486.1 L620.3,484.5 L621.3,482.8 L622.3,481.2 L623.3,479.5 L624.3,477.8 L625.3,476.1 L626.3,474.4 L627.3,472.7 L628.3,471.1 L629.3,469.4 L630.3,467.8 L631.3,466.3 L632.3,464.8 L633.3,463.3 L634.3,462.0 L635.3,460.7 L636.3,459.4 L637.3,458.3 L638.3,457.2 L639.3,456.3 L640.3,455.4 L641.3,454.7 L642.3,454.1 L643.3,453.6 L644.3,453.3 L645.3,453.1 L646.3,453.1 L647.3,453.2 L648.3,453.5 L649.3,454.0 L650.3,454.7 L651.3,455.5 L652.3,456.6 L653.3,457.8 L654.3,459.3 L655.3,461.0 L656.3,462.9 L657.3,465.0 L658.3,467.4 L659.3,469.9 L660.3,472.6 L661.3,475.5 L662.3,478.4 L663.3,481.5 L664.3,484.7 L665.3,487.9 L666.3,491.2 L667.3,494.4 L668.3,497.7 L669.3,501.0 L670.3,504.2 L671.3,507.4 L672.3,510.6 L673.3,513.7 L674.3,516.8 L675.3,519.7 L676.3,522.6 L677.3,525.4 L678.3,528.1 L679.3,530.7 L680.3,533.2 L681.3,535.5 L682.3,537.6 L683.3,539.7 L684.3,541.5 L685.3,543.2 L686.3,544.6 L687.3,545.9 L688.3,547.0 L689.3,547.9 L690.3,548.6 L691.3,549.1 L692.3,549.4 L693.3,549.6 L694.3,549.6 L695.3,549.5 L696.3,549.3 L697.3,549.0 L698.3,548.6 L699.3,548.1 L700.3,547.5 L701.3,546.8 L702.3,546.1 L703.3,545.4 L704.3,544.6 L705.3,543.8 L706.3,543.0 L707.3,542.2 L708.3,541.4 L709.3,540.6 L710.3,539.9 L711.3,539.2 L712.3,538.6 L713.3,538.0 L714.3,537.6 L715.3,537.2" fill="none" stroke="#b2363a" stroke-width="2.4" stroke-linejoin="round"/>
<path d="M92.3,209.6 L92.3,612.4 L716.5,612.4 L716.5,209.6 Z" fill="none" stroke="#1e1e1e" stroke-width="1.6"/>
<path d="M92.3,612.40h10M716.5,612.40h-10M92.3,605.69h5M716.5,605.69h-5M92.3,598.97h5M716.5,598.97h-5M92.3,592.26h5M716.5,592.26h-5M92.3,585.55h5M716.5,585.55h-5M92.3,578.83h5M716.5,578.83h-5M92.3,572.12h5M716.5,572.12h-5M92.3,565.41h5M716.5,565.41h-5M92.3,558.69h5M716.5,558.69h-5M92.3,551.98h5M716.5,551.98h-5M92.3,545.27h10M716.5,545.27h-10M92.3,538.55h5M716.5,538.55h-5M92.3,531.84h5M716.5,531.84h-5M92.3,525.13h5M716.5,525.13h-5M92.3,518.41h5M716.5,518.41h-5M92.3,511.70h5M716.5,511.70h-5M92.3,504.99h5M716.5,504.99h-5M92.3,498.27h5M716.5,498.27h-5M92.3,491.56h5M716.5,491.56h-5M92.3,484.85h5M716.5,484.85h-5M92.3,478.13h10M716.5,478.13h-10M92.3,471.42h5M716.5,471.42h-5M92.3,464.71h5M716.5,464.71h-5M92.3,457.99h5M716.5,457.99h-5M92.3,451.28h5M716.5,451.28h-5M92.3,444.57h5M716.5,444.57h-5M92.3,437.85h5M716.5,437.85h-5M92.3,431.14h5M716.5,431.14h-5M92.3,424.43h5M716.5,424.43h-5M92.3,417.71h5M716.5,417.71h-5M92.3,411.00h10M716.5,411.00h-10M92.3,404.29h5M716.5,404.29h-5M92.3,397.57h5M716.5,397.57h-5M92.3,390.86h5M716.5,390.86h-5M92.3,384.15h5M716.5,384.15h-5M92.3,377.43h5M716.5,377.43h-5M92.3,370.72h5M716.5,370.72h-5M92.3,364.01h5M716.5,364.01h-5M92.3,357.29h5M716.5,357.29h-5M92.3,350.58h5M716.5,350.58h-5M92.3,343.87h10M716.5,343.87h-10M92.3,337.15h5M716.5,337.15h-5M92.3,330.44h5M716.5,330.44h-5M92.3,323.73h5M716.5,323.73h-5M92.3,317.01h5M716.5,317.01h-5M92.3,310.30h5M716.5,310.30h-5M92.3,303.59h5M716.5,303.59h-5M92.3,296.87h5M716.5,296.87h-5M92.3,290.16h5M716.5,290.16h-5M92.3,283.45h5M716.5,283.45h-5M92.3,276.73h10M716.5,276.73h-10M92.3,270.02h5M716.5,270.02h-5M92.3,263.31h5M716.5,263.31h-5M92.3,256.59h5M716.5,256.59h-5M92.3,249.88h5M716.5,249.88h-5M92.3,243.17h5M716.5,243.17h-5M92.3,236.45h5M716.5,236.45h-5M92.3,229.74h5M716.5,229.74h-5M92.3,223.03h5M716.5,223.03h-5M92.3,216.31h5M716.5,216.31h-5M92.3,209.60h10M716.5,209.60h-10M161.5,612.4v-8.5M193.3,612.4v-7M216.6,612.4v-7M235.5,612.4v-7M251.9,612.4v-7M266.4,612.4v-7M278.8,612.4v-7M291.1,612.4v-7M302.0,612.4v-7M313.0,612.4v-8.5M393.0,612.4v-7M450.5,612.4v-7M498.5,612.4v-7M539.6,612.4v-7M575.2,612.4v-7M608.6,612.4v-7M638.2,612.4v-7M666.2,612.4v-7M691.6,612.4v-8.5" stroke="#1e1e1e" stroke-width="1.5" fill="none"/>
<text x="81.8" y="616.8" text-anchor="end" font-size="17" fill="#222">0</text>
<text x="81.8" y="549.7" text-anchor="end" font-size="17" fill="#222">1000</text>
<text x="81.8" y="482.5" text-anchor="end" font-size="17" fill="#222">2000</text>
<text x="81.8" y="415.4" text-anchor="end" font-size="17" fill="#222">3000</text>
<text x="81.8" y="348.3" text-anchor="end" font-size="17" fill="#222">4000</text>
<text x="81.8" y="281.1" text-anchor="end" font-size="17" fill="#222">5000</text>
<text x="81.8" y="214.0" text-anchor="end" font-size="17" fill="#222">6000</text>
<text x="161.5" y="632.7" text-anchor="middle" font-size="17" fill="#222">10</text>
<text x="313.0" y="632.7" text-anchor="middle" font-size="17" fill="#222">100</text>
<text x="539.6" y="632.7" text-anchor="middle" font-size="17" fill="#222">500</text>
<text x="691.6" y="632.7" text-anchor="middle" font-size="17" fill="#222">1000</text>
<text x="297" y="660.8" font-size="22" fill="#1a1a1a" textLength="177" lengthAdjust="spacingAndGlyphs">Multipole moment</text>
<text x="483" y="660.5" font-size="22" font-family="Liberation Serif, serif" font-style="italic" font-weight="bold" fill="#1a1a1a">l</text>
<text transform="translate(25.6,501) rotate(-90)" x="0" y="0" font-size="21.5" fill="#1a1a1a" textLength="172" lengthAdjust="spacingAndGlyphs">Anisotropy Power</text>
<text x="120.3" y="380.7" font-size="19.5" fill="#2b3a33" textLength="39" lengthAdjust="spacingAndGlyphs">~90°</text>
<text x="370.9" y="380.7" font-size="19.5" fill="#2b3a33" textLength="28.5" lengthAdjust="spacingAndGlyphs">~1°</text>
<text x="615.3" y="380.7" font-size="19.5" fill="#2b3a33" textLength="42.2" lengthAdjust="spacingAndGlyphs">~.25°</text>
<path d="M104.4,45.0 C105.3,45.5 107.9,47.7 109.9,48.0 C111.9,48.3 114.2,47.7 116.4,46.6 C118.6,45.5 121.0,43.6 123.0,41.2 C125.0,38.8 126.8,35.7 128.5,32.4 C130.2,29.1 131.6,24.7 132.9,21.4 C134.2,18.1 135.2,14.6 136.2,12.7 C137.2,10.8 138.0,9.9 138.9,9.9 C139.8,9.9 140.8,11.0 141.6,12.7 C142.4,14.4 143.1,17.4 143.8,20.3 C144.5,23.2 145.2,27.1 146.0,30.2 C146.8,33.3 148.0,37.2 148.8,39.0 C149.6,40.8 150.2,41.4 151.0,41.2 C151.8,41.0 152.8,39.0 153.7,37.9 C154.6,36.8 155.5,34.8 156.4,34.6 C157.3,34.4 158.3,35.7 159.2,36.8 C160.1,37.9 161.0,41.0 161.9,41.2 C162.8,41.4 163.8,38.8 164.7,37.9 C165.6,37.0 166.5,35.5 167.4,35.7 C168.3,35.9 169.2,37.4 170.1,39.0 C171.0,40.6 172.0,44.2 172.9,45.5 C173.8,46.8 175.2,46.4 175.6,46.6" fill="none" stroke="#ad4540" stroke-width="2" stroke-linecap="round" stroke-linejoin="round"/>
<line x1="187.9" y1="46.9" x2="261.3" y2="46.9" stroke="#ad4540" stroke-width="2.2"/>
<foreignObject x="98.2" y="52.2" width="80.8" height="165.4"><div style="width:100%;height:100%;background:conic-gradient(from 250deg at 301.8px 97.8px,#ff1000 0deg,#ff1800 3.7deg,#ff4800 10.2deg,#ff9800 17.3deg,#f8f000 24.6deg,#a0f000 27.4deg,#10e010 30.2deg,#00e890 38.4deg,#00f8f0 43deg,#00f8f0 70deg,#ff1000 360deg)"></div></foreignObject>
<foreignObject x="183.2" y="52.2" width="81.4" height="165.4"><div style="width:100%;height:100%;background:conic-gradient(from 270deg at 160.8px 191.8px,#ff1000 0deg,#ff1000 8deg,#ff3000 14deg,#ff8c00 20deg,#f8f000 29.5deg,#00e020 39.7deg,#00f0f0 48deg,#0080ff 53deg,#0018ff 59deg,#0000e4 67deg,#0000d8 90deg,#ff1000 360deg)"></div></foreignObject>
<rect x="179.0" y="52.2" width="4.2" height="165.4" fill="#f2faf6"/>
<g filter="url(#blur6)" opacity="0.85"><circle cx="185.1" cy="141.3" r="57.5" fill="#000"/><line x1="219.76626300513811" y1="184.35353979463076" x2="258.97683889138733" y2="231.4935779228124" stroke="#000" stroke-width="14" stroke-linecap="round"/></g>
<g clip-path="url(#cc0)">
<rect x="127.6" y="82.8" width="53.5" height="107.0" fill="url(#p1ml)"/>
<rect x="181.1" y="82.8" width="53.5" height="107.0" fill="url(#p1mr)"/>
<rect x="179.0" y="82.8" width="4.2" height="107.0" fill="#f2faf6"/>
<circle cx="181.1" cy="136.3" r="53.5" fill="none" stroke="#000" stroke-opacity="0.25" stroke-width="5"/>
<path d="M139.4,158.8 A47.1,47.1 0 0 0 173.1,181.8" fill="none" stroke="#fff" stroke-opacity="0.5" stroke-width="2.5" stroke-linecap="round"/>
</g>
<circle cx="181.1" cy="136.3" r="53.5" fill="none" stroke="#111" stroke-width="2.2"/>
<line x1="215.8" y1="178.4" x2="231.4" y2="197.3" stroke="url(#ferr0)" stroke-width="8.5"/>
<line x1="231.4" y1="197.3" x2="253.0" y2="223.5" stroke="url(#grip0)" stroke-width="11.5" stroke-linecap="round"/>
<path d="M325.4,45.0 C326.3,45.5 328.9,47.7 330.9,48.0 C332.9,48.3 335.2,47.7 337.4,46.6 C339.6,45.5 342.0,43.6 344.0,41.2 C346.0,38.8 347.9,35.7 349.5,32.4 C351.1,29.1 352.6,24.7 353.9,21.4 C355.2,18.1 356.2,14.6 357.2,12.7 C358.2,10.8 359.0,9.9 359.9,9.9 C360.8,9.9 361.8,11.0 362.6,12.7 C363.4,14.4 364.1,17.4 364.8,20.3 C365.5,23.2 366.2,27.1 367.0,30.2 C367.8,33.3 369.0,37.2 369.8,39.0 C370.6,40.8 371.2,41.4 372.0,41.2 C372.8,41.0 373.8,39.0 374.7,37.9 C375.6,36.8 376.5,34.8 377.4,34.6 C378.3,34.4 379.3,35.7 380.2,36.8 C381.1,37.9 382.0,41.0 382.9,41.2 C383.8,41.4 384.8,38.8 385.7,37.9 C386.6,37.0 387.5,35.5 388.4,35.7 C389.3,35.9 390.2,37.4 391.1,39.0 C392.0,40.6 393.0,44.2 393.9,45.5 C394.8,46.8 396.2,46.4 396.6,46.6" fill="none" stroke="#ad4540" stroke-width="2" stroke-linecap="round" stroke-linejoin="round"/>
<line x1="408.9" y1="46.9" x2="482.29999999999995" y2="46.9" stroke="#ad4540" stroke-width="2.2"/>
<rect x="319.2" y="52.2" width="82.2" height="165.4" filter="url(#n2l)"/>
<rect x="405.4" y="52.2" width="79.4" height="165.4" filter="url(#n2r)"/>
<rect x="401.4" y="52.2" width="4.0" height="165.4" fill="#f2faf6"/>
<g filter="url(#blur6)" opacity="0.85"><circle cx="407.4" cy="141.3" r="57.5" fill="#000"/><line x1="442.0662630051381" y1="184.35353979463076" x2="481.2768388913873" y2="231.4935779228124" stroke="#000" stroke-width="14" stroke-linecap="round"/></g>
<g clip-path="url(#cc1)">
<rect x="349.9" y="82.8" width="53.5" height="107.0" filter="url(#n2ml)"/>
<rect x="403.4" y="82.8" width="53.5" height="107.0" filter="url(#n2mr)"/>
<rect x="401.4" y="82.8" width="4.0" height="107.0" fill="#f2faf6"/>
<circle cx="403.4" cy="136.3" r="53.5" fill="none" stroke="#000" stroke-opacity="0.25" stroke-width="5"/>
<path d="M361.7,158.8 A47.1,47.1 0 0 0 395.4,181.8" fill="none" stroke="#fff" stroke-opacity="0.5" stroke-width="2.5" stroke-linecap="round"/>
</g>
<circle cx="403.4" cy="136.3" r="53.5" fill="none" stroke="#111" stroke-width="2.2"/>
<line x1="438.1" y1="178.4" x2="453.7" y2="197.3" stroke="url(#ferr1)" stroke-width="8.5"/>
<line x1="453.7" y1="197.3" x2="475.3" y2="223.5" stroke="url(#grip1)" stroke-width="11.5" stroke-linecap="round"/>
<path d="M547.3,45.0 C548.2,45.5 550.8,47.7 552.8,48.0 C554.8,48.3 557.1,47.7 559.3,46.6 C561.5,45.5 563.9,43.6 565.9,41.2 C567.9,38.8 569.8,35.7 571.4,32.4 C573.0,29.1 574.5,24.7 575.8,21.4 C577.1,18.1 578.1,14.6 579.1,12.7 C580.1,10.8 580.9,9.9 581.8,9.9 C582.7,9.9 583.7,11.0 584.5,12.7 C585.3,14.4 586.0,17.4 586.7,20.3 C587.4,23.2 588.1,27.1 588.9,30.2 C589.7,33.3 590.9,37.2 591.7,39.0 C592.5,40.8 593.1,41.4 593.9,41.2 C594.7,41.0 595.7,39.0 596.6,37.9 C597.5,36.8 598.4,34.8 599.3,34.6 C600.2,34.4 601.2,35.7 602.1,36.8 C603.0,37.9 603.9,41.0 604.8,41.2 C605.7,41.4 606.7,38.8 607.6,37.9 C608.5,37.0 609.4,35.5 610.3,35.7 C611.2,35.9 612.1,37.4 613.0,39.0 C613.9,40.6 614.9,44.2 615.8,45.5 C616.7,46.8 618.0,46.4 618.5,46.6" fill="none" stroke="#ad4540" stroke-width="2" stroke-linecap="round" stroke-linejoin="round"/>
<line x1="630.8000000000001" y1="46.9" x2="704.2" y2="46.9" stroke="#ad4540" stroke-width="2.2"/>
<rect x="541.1" y="52.2" width="82.2" height="165.4" filter="url(#n3l)"/>
<rect x="627.8" y="52.2" width="79.5" height="165.4" filter="url(#n3r)"/>
<rect x="623.3" y="52.2" width="4.5" height="165.4" fill="#f2faf6"/>
<g filter="url(#blur6)" opacity="0.85"><circle cx="629.55" cy="141.3" r="57.5" fill="#000"/><line x1="664.2162630051381" y1="184.35353979463076" x2="703.4268388913873" y2="231.4935779228124" stroke="#000" stroke-width="14" stroke-linecap="round"/></g>
<g clip-path="url(#cc2)">
<rect x="572.0" y="82.8" width="53.5" height="107.0" filter="url(#n3ml)"/>
<rect x="625.5" y="82.8" width="53.5" height="107.0" filter="url(#n3mr)"/>
<rect x="623.3" y="82.8" width="4.5" height="107.0" fill="#f2faf6"/>
<circle cx="625.55" cy="136.3" r="53.5" fill="none" stroke="#000" stroke-opacity="0.25" stroke-width="5"/>
<path d="M583.8,158.8 A47.1,47.1 0 0 0 617.5,181.8" fill="none" stroke="#fff" stroke-opacity="0.5" stroke-width="2.5" stroke-linecap="round"/>
</g>
<circle cx="625.55" cy="136.3" r="53.5" fill="none" stroke="#111" stroke-width="2.2"/>
<line x1="660.2" y1="178.4" x2="675.8" y2="197.3" stroke="url(#ferr2)" stroke-width="8.5"/>
<line x1="675.8" y1="197.3" x2="697.4" y2="223.5" stroke="url(#grip2)" stroke-width="11.5" stroke-linecap="round"/></svg></body></html>
